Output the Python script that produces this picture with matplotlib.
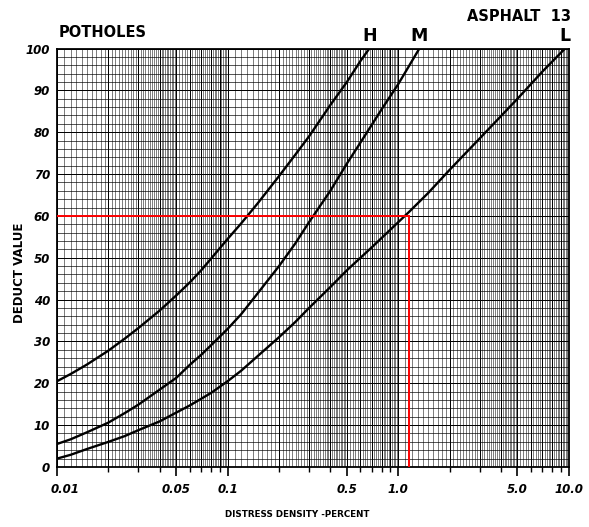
import numpy as np
import matplotlib.pyplot as plt
from matplotlib.transforms import ScaledTranslation

# potholes (asphalt 13) - deduct value curves
h_density = [0.01, 0.012, 0.015, 0.02, 0.025, 0.03, 0.04, 0.05, 0.06, 0.07, 0.08, 0.1, 0.12,
             0.15, 0.2, 0.25, 0.3, 0.4, 0.5, 0.6, 0.677]
h_deduct = [20.5, 22.2, 24.5, 27.8, 30.7, 33.2, 37.4, 41, 44.1, 47, 49.8, 54.5, 58.2,
            63, 69.5, 74.7, 79, 86.5, 92, 97, 100]

m_density = [0.01, 0.012, 0.015, 0.02, 0.025, 0.03, 0.04, 0.05, 0.06, 0.07, 0.08, 0.1, 0.12,
             0.15, 0.2, 0.25, 0.3, 0.4, 0.5, 0.6, 0.8, 1.0, 1.33]
m_deduct = [5.5, 6.6, 8.3, 10.6, 12.9, 14.9, 18.5, 21.3, 24.4, 26.8, 29.1, 33, 36.5,
            41.5, 48, 53.5, 58.5, 66, 72.5, 77.5, 85.5, 91.5, 100]

l_density = [0.01, 0.012, 0.015, 0.02, 0.025, 0.03, 0.04, 0.05, 0.06, 0.07, 0.08, 0.1, 0.12,
             0.15, 0.2, 0.25, 0.3, 0.4, 0.5, 0.7, 1.0, 1.16, 1.5, 2.0, 3.0, 5.0, 7.0, 9.5]
l_deduct = [2, 2.9, 4.3, 6.0, 7.4, 8.8, 10.9, 13, 14.7, 16.3, 17.7, 20.5, 23,
            26.5, 31, 34.7, 38, 43, 47, 52.5, 58.5, 61, 65.5, 71, 78.5, 88, 94.5, 100]

# example reading marked in red
ex_density = 1.16
ex_deduct = 60

x_ticks = [0.01, 0.05, 0.1, 0.5, 1.0, 5.0, 10.0]
x_labels = ["0.01", "0.05", "0.1", "0.5", "1.0", "5.0", "10.0"]
y_ticks = [0, 10, 20, 30, 40, 50, 60, 70, 80, 90, 100]

fig = plt.figure(figsize=(5.89, 5.27), dpi=100)
ax = fig.add_axes([0.0968, 0.1139, 0.869, 0.794])
ax.set_xscale("log")
ax.set_xlim(0.01, 10)
ax.set_ylim(0, 100)

# graph paper
vl = []
for d in [0.01, 0.1, 1.0]:
    vl += list(d * np.arange(1.0, 5.0, 0.1)) + list(d * np.arange(5.0, 10.0, 0.2))
ax.vlines(vl, 0, 100, colors="k", lw=0.45, alpha=0.8, zorder=0)
majors = [d * k for d in [0.01, 0.1, 1.0] for k in range(1, 10)]
ax.vlines(majors, 0, 100, colors="k", lw=0.7, zorder=0)
ax.hlines(np.arange(2, 100, 2), 0.01, 10, colors="k", lw=0.55, alpha=0.85, zorder=0)
ax.hlines(y_ticks, 0.01, 10, colors="k", lw=0.7, zorder=0)

ax.plot(h_density, h_deduct, color="k", lw=1.7, zorder=3)
ax.plot(m_density, m_deduct, color="k", lw=1.7, zorder=3)
ax.plot(l_density, l_deduct, color="k", lw=1.7, zorder=3)

ax.plot([0.01, ex_density], [ex_deduct, ex_deduct], color="red", lw=1.4, zorder=4)
ax.plot([ex_density, ex_density], [0, ex_deduct], color="red", lw=1.4, zorder=4)

for s in ax.spines.values():
    s.set_linewidth(1.3)

ax.set_xticks(x_ticks)
ax.set_xticklabels(x_labels, fontsize=8.5, fontweight="bold", fontstyle="italic")
minors = [d * k for d in [0.01, 0.1, 1.0] for k in range(2, 10) if k != 5]
ax.set_xticks(minors, minor=True)
ax.tick_params(axis="x", which="major", length=6.5, width=1.2, pad=5)
ax.tick_params(axis="x", which="minor", length=3.5, width=1.0)
lab0 = ax.get_xticklabels()[0]
lab0.set_transform(lab0.get_transform() + ScaledTranslation(6 / 72, 0, fig.dpi_scale_trans))

ax.set_yticks(y_ticks)
ax.set_yticklabels([str(v) for v in y_ticks], fontsize=8.5, fontweight="bold", fontstyle="italic")
ax.tick_params(axis="y", length=0, pad=5)

fig.text(0.033, 0.482, "DEDUCT VALUE", fontsize=8.5, fontweight="bold",
         rotation=90, ha="center", va="center")
fig.text(0.505, 0.019, "DISTRESS DENSITY -PERCENT", fontsize=6.3, fontweight="bold", ha="center")

fig.text(0.100, 0.925, "POTHOLES", fontsize=10.5, fontweight="bold", va="bottom")
fig.text(0.970, 0.955, "ASPHALT  13", fontsize=10.5, fontweight="bold", ha="right", va="bottom")
for dens, name in [(h_density[-1], "H"), (m_density[-1], "M"), (l_density[-1], "L")]:
    ax.text(dens, 100.8, name, fontsize=12.5, fontweight="bold", ha="center", va="bottom", clip_on=False)

fig.savefig("out.png", dpi=100)
